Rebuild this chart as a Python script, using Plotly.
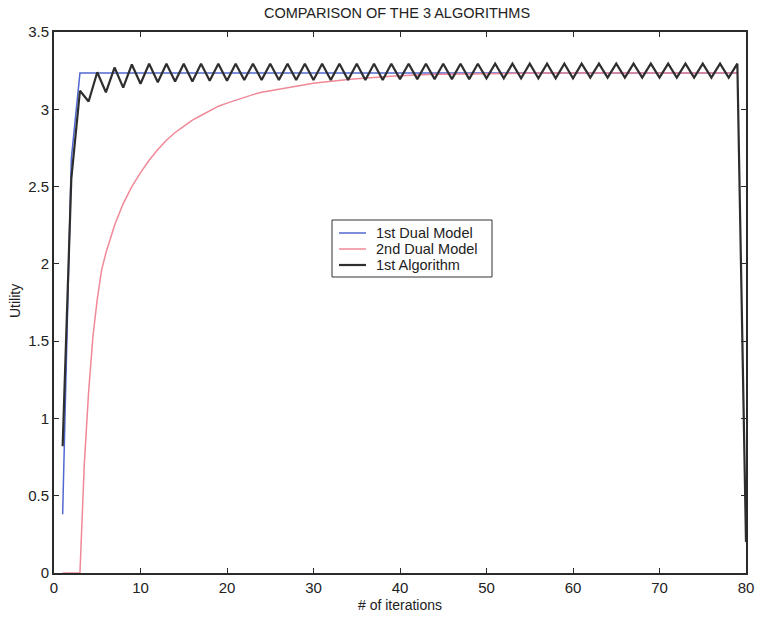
import plotly.graph_objects as go

# ---- data ----
iter_black = list(range(1, 81))
iter_blue = list(range(1, 80))
iter_red = [1, 2, 3, 3.5, 4, 4.5, 5, 5.5] + list(range(6, 80))

dual1 = [0.38, 2.68, 3.235, 3.235, 3.235, 3.235, 3.235, 3.235, 3.235, 3.235,
         3.235, 3.235, 3.235, 3.235, 3.235, 3.235, 3.235, 3.235, 3.235, 3.235,
         3.235, 3.235, 3.235, 3.235, 3.235, 3.235, 3.235, 3.235, 3.235, 3.235,
         3.235, 3.235, 3.235, 3.235, 3.235, 3.235, 3.235, 3.235, 3.235, 3.235,
         3.235, 3.235, 3.235, 3.235, 3.235, 3.235, 3.235, 3.235, 3.235, 3.235,
         3.235, 3.235, 3.235, 3.235, 3.235, 3.235, 3.235, 3.235, 3.235, 3.235,
         3.235, 3.235, 3.235, 3.235, 3.235, 3.235, 3.235, 3.235, 3.235, 3.235,
         3.235, 3.235, 3.235, 3.235, 3.235, 3.235, 3.235, 3.235, 3.235]

dual2 = [0.0, 0.0, 0.0, 0.70, 1.17, 1.53, 1.77, 1.96, 2.07, 2.25, 2.39, 2.50, 2.59,
         2.67, 2.74, 2.80, 2.85, 2.89, 2.93, 2.96, 2.99, 3.02, 3.04,
         3.06, 3.08, 3.095, 3.11, 3.12, 3.13, 3.14, 3.15, 3.16, 3.168,
         3.175, 3.182, 3.188, 3.193, 3.198, 3.203, 3.207, 3.211, 3.214, 3.217,
         3.22, 3.222, 3.224, 3.226, 3.227, 3.228, 3.229, 3.23, 3.231, 3.232,
         3.232, 3.233, 3.233, 3.233, 3.234, 3.234, 3.234, 3.234, 3.235, 3.235,
         3.235, 3.235, 3.235, 3.235, 3.235, 3.235, 3.235, 3.235, 3.235, 3.235,
         3.235, 3.235, 3.235, 3.235, 3.235, 3.235, 3.235, 3.235, 3.235]

algo1 = [0.82, 2.55, 3.12, 3.05, 3.24, 3.11, 3.27, 3.14, 3.29, 3.165,
         3.295, 3.175, 3.295, 3.18, 3.295, 3.18, 3.295, 3.185, 3.295, 3.185,
         3.295, 3.19, 3.295, 3.19, 3.295, 3.19, 3.295, 3.19, 3.295, 3.19,
         3.295, 3.19, 3.295, 3.19, 3.295, 3.19, 3.295, 3.19, 3.295, 3.195,
         3.295, 3.195, 3.295, 3.195, 3.295, 3.195, 3.295, 3.195, 3.295, 3.2,
         3.295, 3.2, 3.295, 3.2, 3.295, 3.2, 3.295, 3.2, 3.295, 3.2,
         3.295, 3.205, 3.295, 3.205, 3.295, 3.205, 3.295, 3.205, 3.295, 3.205,
         3.295, 3.205, 3.295, 3.205, 3.295, 3.205, 3.295, 3.205, 3.295, 0.2]

series_names = ["1st Dual Model", "2nd Dual Model", "1st Algorithm"]
series_colors = ["#5068d0", "#f08898", "#2e2e2e"]
series_widths = [1.5, 1.5, 2.2]

x_ticks = [0, 10, 20, 30, 40, 50, 60, 70, 80]
y_ticks = [0, 0.5, 1, 1.5, 2, 2.5, 3, 3.5]
y_tick_text = ["0", "0.5", "1", "1.5", "2", "2.5", "3", "3.5"]

FONT = "Arial, Liberation Sans, Helvetica, sans-serif"
AX = "#2b2b2b"
W, H = 757, 617
ML, MR, MT, MB = 54, 11, 32, 44
PW, PH = W - ML - MR, H - MT - MB


def px_to_paper(px, py):
    return (px - ML) / PW, (H - MB - py) / PH


fig = go.Figure()
for xs, ys, nm, col, wd in zip([iter_blue, iter_red, iter_black], [dual1, dual2, algo1],
                               series_names, series_colors, series_widths):
    fig.add_trace(go.Scatter(x=xs, y=ys, mode="lines", name=nm,
                             line=dict(color=col, width=wd), showlegend=False))

axis_common = dict(showgrid=False, zeroline=False, showline=True, linecolor=AX,
                   linewidth=2, mirror="ticks", ticks="inside", ticklen=5,
                   tickcolor=AX, tickwidth=1, automargin=False,
                   tickfont=dict(family=FONT, size=15, color="#222"))

# legend box (drawn as layout shapes + text)
shapes = []
annotations = []
bx0, by0 = px_to_paper(332, 220)
bx1, by1 = px_to_paper(492, 277)
shapes.append(dict(type="rect", xref="paper", yref="paper", x0=bx0, y0=by1, x1=bx1, y1=by0,
                   line=dict(color="#333", width=1), fillcolor="white", layer="above"))
row_y = [233, 249, 265]
for nm, col, wd, ry in zip(series_names, series_colors, series_widths, row_y):
    lx0, ly = px_to_paper(339, ry)
    lx1, _ = px_to_paper(366, ry)
    shapes.append(dict(type="line", xref="paper", yref="paper", x0=lx0, x1=lx1, y0=ly, y1=ly,
                       line=dict(color=col, width=wd), layer="above"))
    tx, _ = px_to_paper(374, ry)
    annotations.append(dict(text=nm, xref="paper", yref="paper", x=tx, y=ly,
                            xanchor="left", yanchor="middle", showarrow=False,
                            font=dict(family=FONT, size=14.5, color="#222")))

# axis titles
xt, yt = px_to_paper(400, 605)
annotations.append(dict(text="# of iterations", xref="paper", yref="paper", x=xt, y=yt,
                        xanchor="center", yanchor="middle", showarrow=False,
                        font=dict(family=FONT, size=14, color="#222")))
xt, yt = px_to_paper(15, 301)
annotations.append(dict(text="Utility", xref="paper", yref="paper", x=xt, y=yt,
                        xanchor="center", yanchor="middle", showarrow=False, textangle=-90,
                        font=dict(family=FONT, size=14, color="#222")))

fig.update_layout(
    width=W, height=H,
    margin=dict(l=ML, r=MR, t=MT, b=MB),
    paper_bgcolor="white", plot_bgcolor="white",
    title=dict(text="COMPARISON OF THE 3 ALGORITHMS", x=397 / W,
               xanchor="center", xref="container",
               y=1 - 13 / H, yanchor="middle",
               font=dict(family=FONT, size=14.5, color="#222")),
    xaxis=dict(range=[0, 80], tickvals=x_ticks, **axis_common),
    yaxis=dict(range=[0, 3.5], tickvals=y_ticks, ticktext=y_tick_text, **axis_common),
    shapes=shapes,
    annotations=annotations,
    showlegend=False,
)

fig.write_html("out.html")
